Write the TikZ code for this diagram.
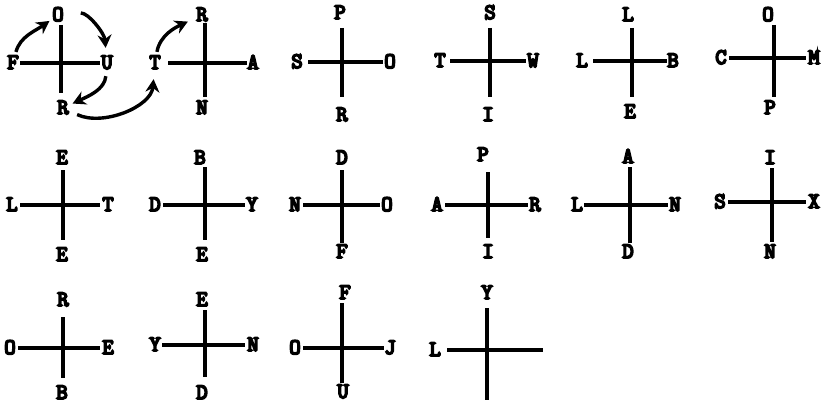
\documentclass[tikz,border=0pt]{standalone}
\usepackage{fontspec}
\newfontfamily\letfont{Latin Modern Mono}[FakeBold=8]
\usetikzlibrary{arrows.meta}
\begin{document}
\begin{tikzpicture}[x=1pt,y=-1pt,
  lab/.style={font=\letfont\fontsize{22}{22}\selectfont, inner sep=1pt, text height=12pt, text depth=0pt},
  arm/.style={line width=3.2pt},
  arr/.style={line width=3.4pt, -{Stealth[length=13pt,width=14pt]}}]
\useasboundingbox (0,0) rectangle (821,404);
% cross 1
\node[lab] (c1n) at (58,15) {O};
\node[lab] (c1w) at (13,63) {F};
\node[lab] (c1e) at (107,63) {U};
\node[lab] (c1s) at (63,108) {R};
\coordinate (c1l) at (20,63); \coordinate (c1r) at (100,63);
\coordinate (c1t) at (61,25); \coordinate (c1b) at (61,93);
\draw[arm] (c1l) -- (c1r); \draw[arm] (c1t) -- (c1b);
% cross 2
\node[lab] (c2n) at (202,15) {R};
\node[lab] (c2w) at (155,63) {T};
\node[lab] (c2e) at (253,63) {A};
\node[lab] (c2s) at (202,108) {N};
\coordinate (c2l) at (168,63); \coordinate (c2r) at (247,63);
\coordinate (c2t) at (205,23); \coordinate (c2b) at (205,97);
\draw[arm] (c2l) -- (c2r); \draw[arm] (c2t) -- (c2b);
% cross 3
\node[lab] (c3n) at (340,13) {P};
\node[lab] (c3w) at (297,62) {S};
\node[lab] (c3e) at (390,62) {O};
\node[lab] (c3s) at (342,115) {R};
\coordinate (c3l) at (308,62); \coordinate (c3r) at (383,62);
\coordinate (c3t) at (342,28); \coordinate (c3b) at (342,97);
\draw[arm] (c3l) -- (c3r); \draw[arm] (c3t) -- (c3b);
% cross 4
\node[lab] (c4n) at (490,13) {S};
\node[lab] (c4w) at (440,61) {T};
\node[lab] (c4e) at (533,61) {W};
\node[lab] (c4s) at (488,115) {I};
\coordinate (c4l) at (450,61); \coordinate (c4r) at (526,61);
\coordinate (c4t) at (490,28); \coordinate (c4b) at (490,97);
\draw[arm] (c4l) -- (c4r); \draw[arm] (c4t) -- (c4b);
% cross 5
\node[lab] (c5n) at (628,15) {L};
\node[lab] (c5w) at (582,61) {L};
\node[lab] (c5e) at (673,61) {B};
\node[lab] (c5s) at (630,112) {E};
\coordinate (c5l) at (593,61); \coordinate (c5r) at (667,61);
\coordinate (c5t) at (632,28); \coordinate (c5b) at (632,97);
\draw[arm] (c5l) -- (c5r); \draw[arm] (c5t) -- (c5b);
% cross 6
\node[lab] (c6n) at (768,15) {O};
\node[lab] (c6w) at (721,58) {C};
\node[lab] (c6e) at (814,58) {M};
\node[lab] (c6s) at (770,108) {P};
\coordinate (c6l) at (729,58); \coordinate (c6r) at (806,58);
\coordinate (c6t) at (774,25); \coordinate (c6b) at (774,97);
\draw[arm] (c6l) -- (c6r); \draw[arm] (c6t) -- (c6b);
% cross 7
\node[lab] (c7n) at (62,158) {E};
\node[lab] (c7w) at (12,205) {L};
\node[lab] (c7e) at (108,205) {T};
\node[lab] (c7s) at (62,255) {E};
\coordinate (c7l) at (20,205); \coordinate (c7r) at (100,205);
\coordinate (c7t) at (63,170); \coordinate (c7b) at (63,240);
\draw[arm] (c7l) -- (c7r); \draw[arm] (c7t) -- (c7b);
% cross 8
\node[lab] (c8n) at (200,158) {B};
\node[lab] (c8w) at (155,205) {D};
\node[lab] (c8e) at (252,205) {Y};
\node[lab] (c8s) at (202,255) {E};
\coordinate (c8l) at (163,205); \coordinate (c8r) at (245,205);
\coordinate (c8t) at (205,167); \coordinate (c8b) at (205,240);
\draw[arm] (c8l) -- (c8r); \draw[arm] (c8t) -- (c8b);
% cross 9
\node[lab] (c9n) at (342,158) {D};
\node[lab] (c9w) at (295,205) {N};
\node[lab] (c9e) at (387,205) {O};
\node[lab] (c9s) at (342,252) {F};
\coordinate (c9l) at (303,205); \coordinate (c9r) at (380,205);
\coordinate (c9t) at (342,170); \coordinate (c9b) at (342,243);
\draw[arm] (c9l) -- (c9r); \draw[arm] (c9t) -- (c9b);
% cross 10
\node[lab] (c10n) at (483,155) {P};
\node[lab] (c10w) at (437,205) {A};
\node[lab] (c10e) at (535,205) {R};
\node[lab] (c10s) at (488,252) {I};
\coordinate (c10l) at (445,205); \coordinate (c10r) at (528,205);
\coordinate (c10t) at (488,172); \coordinate (c10b) at (488,238);
\draw[arm] (c10l) -- (c10r); \draw[arm] (c10t) -- (c10b);
% cross 11
\node[lab] (c11n) at (628,157) {A};
\node[lab] (c11w) at (577,205) {L};
\node[lab] (c11e) at (675,205) {N};
\node[lab] (c11s) at (628,252) {D};
\coordinate (c11l) at (584,205); \coordinate (c11r) at (668,205);
\coordinate (c11t) at (630,167); \coordinate (c11b) at (630,243);
\draw[arm] (c11l) -- (c11r); \draw[arm] (c11t) -- (c11b);
% cross 12
\node[lab] (c12n) at (770,158) {I};
\node[lab] (c12w) at (720,202) {S};
\node[lab] (c12e) at (814,202) {X};
\node[lab] (c12s) at (770,252) {N};
\coordinate (c12l) at (728,202); \coordinate (c12r) at (806,202);
\coordinate (c12t) at (772,168); \coordinate (c12b) at (772,242);
\draw[arm] (c12l) -- (c12r); \draw[arm] (c12t) -- (c12b);
% cross 13
\node[lab] (c13n) at (63,300) {R};
\node[lab] (c13w) at (10,348) {O};
\node[lab] (c13e) at (108,348) {E};
\node[lab] (c13s) at (62,393) {B};
\coordinate (c13l) at (18,348); \coordinate (c13r) at (100,348);
\coordinate (c13t) at (63,317); \coordinate (c13b) at (63,378);
\draw[arm] (c13l) -- (c13r); \draw[arm] (c13t) -- (c13b);
% cross 14
\node[lab] (c14n) at (202,300) {E};
\node[lab] (c14w) at (155,345) {Y};
\node[lab] (c14e) at (253,345) {N};
\node[lab] (c14s) at (202,393) {D};
\coordinate (c14l) at (162,345); \coordinate (c14r) at (245,345);
\coordinate (c14t) at (205,310); \coordinate (c14b) at (205,377);
\draw[arm] (c14l) -- (c14r); \draw[arm] (c14t) -- (c14b);
% cross 15
\node[lab] (c15n) at (345,293) {F};
\node[lab] (c15w) at (295,348) {O};
\node[lab] (c15e) at (390,348) {J};
\node[lab] (c15s) at (343,392) {U};
\coordinate (c15l) at (303,348); \coordinate (c15r) at (384,348);
\coordinate (c15t) at (342,303); \coordinate (c15b) at (342,383);
\draw[arm] (c15l) -- (c15r); \draw[arm] (c15t) -- (c15b);
% cross 16
\node[lab] (c16n) at (487,293) {Y};
\node[lab] (c16w) at (435,350) {L};
\coordinate (c16l) at (447,350); \coordinate (c16r) at (543,350);
\coordinate (c16t) at (487,308); \coordinate (c16b) at (487,400);
\draw[arm] (c16l) -- (c16r); \draw[arm] (c16t) -- (c16b);
% ---------- curved arrows ----------
\draw[arr, shorten <=4pt, shorten >=2pt] (c1w) to[out=75, in=215] (c1n);
\draw[arr, shorten <=16pt, shorten >=8pt] (c1n) to[out=5, in=95] (c1e);
\draw[arr, shorten <=6pt, shorten >=3pt] (c1e) to[out=-95, in=25] (c1s);
\draw[arr, shorten <=8pt, shorten >=9pt] (c1s) to[out=-25, in=-95] (c2w);
\draw[arr, shorten <=4pt, shorten >=8pt] (c2w) to[out=80, in=205] (c2n);
\end{tikzpicture}
\end{document}
